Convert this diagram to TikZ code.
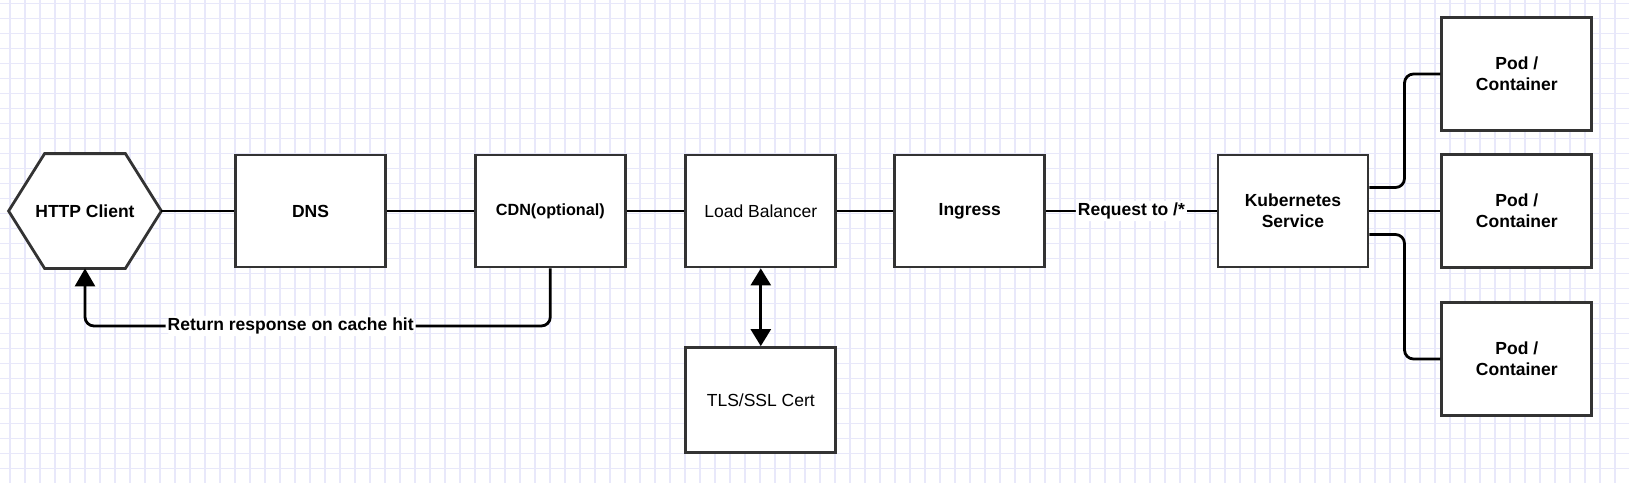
\documentclass[tikz,border=0pt]{standalone}
\usepackage{fontspec}
\setmainfont{Liberation Sans}
\usetikzlibrary{arrows.meta,calc}
\definecolor{gridc}{RGB}{232,232,250}
\definecolor{boxc}{RGB}{51,51,51}
\tikzset{
  box/.style={draw=boxc, fill=white, line width=2.8pt, minimum width=150pt, minimum height=112pt, inner sep=0pt, align=center, font=\fontsize{17.5}{21}\selectfont\bfseries},
  plainbox/.style={box, font=\fontsize{17.5}{21}\selectfont},
  conn/.style={line width=2.8pt, black, rounded corners=9pt},
  lbl/.style={fill=white, inner sep=2pt, font=\fontsize{17.5}{21}\selectfont\bfseries},
  tip/.style={-{Triangle[width=20pt,length=18pt]}},
  dtip/.style={{Triangle[width=20pt,length=17pt]}-{Triangle[width=20pt,length=17pt]}},
}
\begin{document}
\begin{tikzpicture}[x=1pt,y=-1pt]
\useasboundingbox (0,0) rectangle (1629,483);
\fill[white] (0,0) rectangle (1629,483);
\foreach \gx in {10,25,...,1629} \draw[gridc, line width=1.2pt] (\gx,0) -- (\gx,483);
\foreach \gy in {3.3,18.3,...,483} \draw[gridc, line width=1.2pt] (0,\gy) -- (1629,\gy);

% nodes
\node[box, draw=none, fill=none] (client) at (85,211) {};
\fill[white, draw=boxc, line width=2.8pt, line join=miter]
  (client.west) -- ([xshift=36pt]client.north west) -- ([xshift=-36pt]client.north east)
  -- (client.east) -- ([xshift=-36pt]client.south east) -- ([xshift=36pt]client.south west) -- cycle;
\node[font=\fontsize{17.5}{21}\selectfont\bfseries] (clienttext) at (client.center) {HTTP Client};
\node[box] (dns) at (310.5,211) {DNS};
\node[box, font=\fontsize{16.2}{20}\selectfont\bfseries] (cdn) at (550.3,211) {CDN(optional)};
\node[plainbox] (lb) at (760.8,211) {Load Balancer};
\node[box] (ingress) at (969.8,211) {Ingress};
\node[box] (k8s) at (1292.9,211) {Kubernetes\\Service};
\node[box, minimum height=113pt] (pod1) at (1516.8,74) {Pod /\\Container};
\node[box, minimum height=113pt] (pod2) at (1516.8,211) {Pod /\\Container};
\node[box, minimum height=113pt] (pod3) at (1516.8,359) {Pod /\\Container};
\node[plainbox, minimum height=105pt] (tls) at (760.8,400) {TLS/SSL Cert};
\coordinate (retrow) at (0,326);
\coordinate (split) at (1404.5,211);
\coordinate (k8sup) at ([yshift=23.5pt]k8s.east);
\coordinate (k8sdown) at ([yshift=-23.5pt]k8s.east);

% connectors
\draw[conn] (client.east) -- (dns.west);
\draw[conn] (dns.east) -- (cdn.west);
\draw[conn] (cdn.east) -- (lb.west);
\draw[conn] (lb.east) -- (ingress.west);
\draw[conn] (ingress.east) -- node[lbl] {Request to /*} (k8s.west);
\draw[conn, tip] (cdn.south) |- node[lbl, pos=0.779] {Return response on cache hit} (client.south |- retrow) -- (client.south);
\draw[conn, dtip] (lb.south) -- (tls.north);
\draw[conn] (k8sup) -- (split |- k8sup) |- (pod1.west);
\draw[conn] (k8s.east) -- (pod2.west);
\draw[conn] (k8sdown) -- (split |- k8sdown) |- (pod3.west);
\end{tikzpicture}
\end{document}
